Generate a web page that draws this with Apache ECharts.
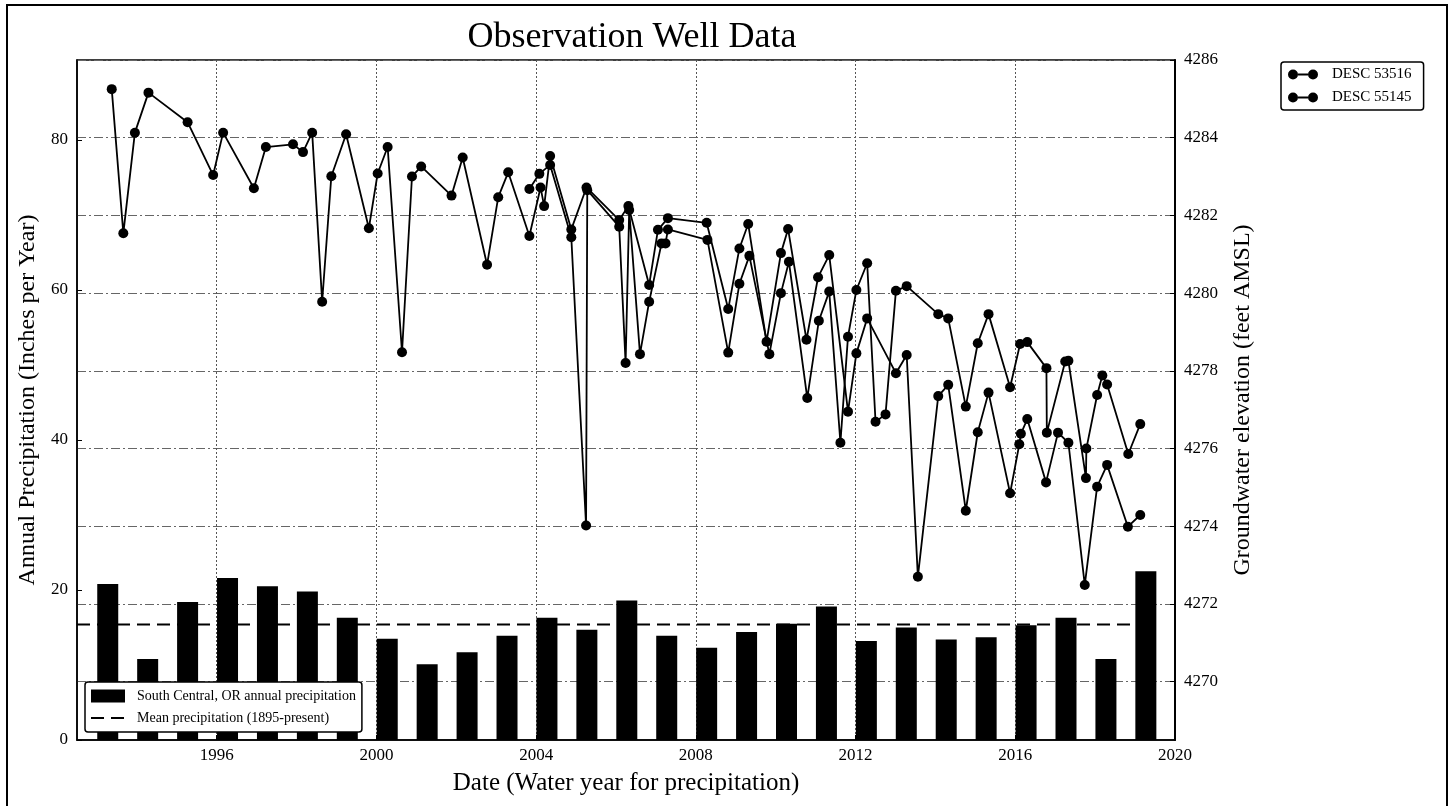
<!DOCTYPE html>
<html>
<head>
<meta charset="utf-8">
<title>Observation Well Data</title>
<script src="https://cdn.jsdelivr.net/npm/echarts@6/dist/echarts.min.js"></script>
<style>
  html, body { margin: 0; padding: 0; background: #fff; }
  #chart { width: 1452px; height: 806px; }
</style>
</head>
<body>
<div id="chart"></div>
<script>
// annual precipitation by water year (inches)
const precipYears = [1993, 1994, 1995, 1996, 1997, 1998, 1999, 2000, 2001, 2002, 2003, 2004, 2005, 2006,
  2007, 2008, 2009, 2010, 2011, 2012, 2013, 2014, 2015, 2016, 2017, 2018, 2019]
const precipValues = [20.8, 10.8, 18.4, 21.6, 20.5, 19.8, 16.3, 13.5, 10.1, 11.7, 13.9, 16.3, 14.7, 18.6,
  13.9, 12.3, 14.4, 15.5, 17.8, 13.2, 15.0, 13.4, 13.7, 15.3, 16.3, 10.8, 22.5]
const barOffset = 0.27 // bars sit a quarter year into each water year
const meanPrecip = 15.4
const meanSpan = [1992.5, 2019.3]

// groundwater elevation (feet AMSL), dates as decimal years
const well53516Dates = [1993.37, 1993.66, 1993.95, 1994.29, 1995.27, 1995.91, 1996.16, 1996.93, 1997.23, 1997.91,
  1998.16, 1998.39, 1998.64, 1998.87, 1999.24, 1999.81, 2000.03, 2000.28, 2000.64, 2000.89,
  2001.12, 2001.88, 2002.16, 2002.77, 2003.05, 2003.30, 2003.83, 2004.11, 2004.20, 2004.35,
  2004.88, 2005.26, 2006.08, 2006.31, 2006.83, 2007.05, 2007.30, 2008.27, 2008.81, 2009.09,
  2009.31, 2009.77, 2010.13, 2010.31, 2010.77, 2011.06, 2011.34, 2011.81, 2012.02, 2012.29,
  2013.01, 2013.28, 2013.56, 2014.07, 2014.32, 2014.76, 2015.06, 2015.33, 2015.87, 2016.10,
  2016.14, 2016.30, 2016.77, 2017.07, 2017.33, 2017.74, 2018.05, 2018.30, 2018.82, 2019.13]
const well53516Elev = [4285.25, 4281.54, 4284.13, 4285.16, 4284.40, 4283.04, 4284.13, 4282.70, 4283.76, 4283.83,
  4283.63, 4284.13, 4279.78, 4283.01, 4284.09, 4281.67, 4283.08, 4283.76, 4278.48, 4283.00,
  4283.26, 4282.51, 4283.49, 4280.73, 4282.47, 4283.11, 4281.47, 4282.72, 4282.24, 4283.53,
  4281.64, 4282.72, 4281.88, 4282.24, 4280.21, 4281.63, 4281.93, 4281.81, 4279.59, 4281.15,
  4281.78, 4278.75, 4281.03, 4281.65, 4278.80, 4280.41, 4280.98, 4276.95, 4278.45, 4279.35,
  4277.94, 4278.41, 4272.70, 4277.35, 4277.64, 4274.40, 4276.42, 4277.44, 4274.85, 4276.11,
  4276.38, 4276.76, 4275.13, 4276.41, 4276.15, 4272.49, 4275.02, 4275.58, 4273.99, 4274.29]

const well55145Dates = [2003.83, 2004.08, 2004.35, 2004.88, 2005.25, 2005.28, 2006.08, 2006.24, 2006.33, 2006.60,
  2006.83, 2007.14, 2007.24, 2007.30, 2008.29, 2008.81, 2009.09, 2009.34, 2009.84, 2010.13,
  2010.33, 2010.79, 2011.08, 2011.34, 2011.62, 2011.81, 2012.02, 2012.29, 2012.50, 2012.75,
  2013.01, 2013.28, 2014.07, 2014.32, 2014.76, 2015.06, 2015.33, 2015.87, 2016.12, 2016.30,
  2016.78, 2016.79, 2017.25, 2017.33, 2017.77, 2017.78, 2018.05, 2018.18, 2018.30, 2018.83,
  2019.13]
const well55145Elev = [4282.68, 4283.07, 4283.30, 4281.44, 4274.02, 4282.65, 4281.71, 4278.20, 4282.14, 4278.43,
  4279.78, 4281.28, 4281.28, 4281.64, 4281.37, 4278.47, 4280.24, 4280.96, 4278.43, 4280.00,
  4280.81, 4277.30, 4279.29, 4280.04, 4276.15, 4278.88, 4280.08, 4280.77, 4276.69, 4276.88,
  4280.06, 4280.18, 4279.46, 4279.35, 4277.08, 4278.71, 4279.46, 4277.58, 4278.69, 4278.74,
  4278.07, 4276.41, 4278.24, 4278.26, 4275.24, 4276.00, 4277.38, 4277.88, 4277.65, 4275.86,
  4276.63]

const xTicks = [1996, 2000, 2004, 2008, 2012, 2016, 2020]
const leftTicks = [0, 20, 40, 60, 80]
const rightTicks = [4270, 4272, 4274, 4276, 4278, 4280, 4282, 4284, 4286]

const serif = "'Liberation Serif', 'Times New Roman', serif"
const twoDotIcon = 'path://M0,5A5,5,0,1,0,10,5A5,5,0,1,0,0,5ZM20,5A5,5,0,1,0,30,5A5,5,0,1,0,20,5ZM10,4L20,4L20,6L10,6Z'
const plain = v => String(v) // no thousands separators

const chart = echarts.init(document.getElementById('chart'))

const wellSeries = (name, dates, elev) => ({
  name: name,
  type: 'line',
  xAxisIndex: 0,
  yAxisIndex: 1,
  symbol: 'circle',
  symbolSize: 10,
  z: 5,
  itemStyle: { color: '#000' },
  lineStyle: { color: '#000', width: 1.8 },
  data: dates.map((d, i) => [d, elev[i]])
})

chart.setOption({
  backgroundColor: '#fff',
  animation: false,
  title: {
    text: 'Observation Well Data',
    left: 627,
    top: 15,
    textAlign: 'center',
    textStyle: { fontFamily: serif, fontSize: 36, fontWeight: 'normal', color: '#000' }
  },
  graphic: [{
    type: 'rect',
    shape: { x: 7, y: 5, width: 1440, height: 806 },
    style: { fill: 'none', stroke: '#000', lineWidth: 2 },
    silent: true
  }],
  legend: [{
    data: ['DESC 53516', 'DESC 55145'],
    orient: 'vertical',
    left: 1281,
    top: 62,
    backgroundColor: '#fff',
    borderColor: '#000',
    borderWidth: 1.5,
    borderRadius: 3,
    padding: [5, 12, 5, 7],
    itemGap: 8,
    itemWidth: 30,
    itemHeight: 10,
    icon: twoDotIcon,
    textStyle: { fontFamily: serif, fontSize: 15, color: '#000', padding: [0, 0, 0, 9] }
  }, {
    data: [
      { name: 'South Central, OR annual precipitation', icon: 'rect' },
      { name: 'Mean precipitation (1895-present)', itemStyle: { opacity: 0 } }
    ],
    orient: 'vertical',
    left: 85,
    top: 682,
    backgroundColor: '#fff',
    borderColor: '#000',
    borderWidth: 1.5,
    borderRadius: 3,
    padding: [7, 6, 7, 5],
    itemGap: 8,
    itemWidth: 34,
    itemHeight: 13,
    textStyle: { fontFamily: serif, fontSize: 14, color: '#000', padding: [0, 0, 0, 7] }
  }],
  grid: {
    left: 77,
    right: 277,
    top: 60,
    bottom: 66,
    show: true,
    borderColor: '#000',
    borderWidth: 1.5,
    containLabel: false
  },
  xAxis: [{
    type: 'value',
    min: 1992.5,
    max: 2020,
    name: 'Date (Water year for precipitation)',
    nameLocation: 'middle',
    nameGap: 31,
    nameTextStyle: { fontFamily: serif, fontSize: 25, color: '#000' },
    axisLine: { lineStyle: { color: '#000', width: 1.5 } },
    axisTick: { inside: true, length: 5, customValues: xTicks, lineStyle: { color: '#000' } },
    axisLabel: { customValues: xTicks, formatter: plain, fontFamily: serif, fontSize: 17, color: '#000', margin: 7 },
    splitLine: { show: true, lineStyle: { color: '#555', type: [2, 2], width: 1 } }
  }],
  yAxis: [{
    type: 'value',
    position: 'left',
    min: 0,
    max: 90.67,
    interval: 20,
    name: 'Annual Precipitation (Inches per Year)',
    nameLocation: 'middle',
    nameRotate: 90,
    nameGap: 37,
    nameTextStyle: { fontFamily: serif, fontSize: 24, color: '#000' },
    axisLine: { show: true, lineStyle: { color: '#000', width: 1.5 } },
    axisTick: { show: true, inside: true, length: 5, customValues: leftTicks, lineStyle: { color: '#000' } },
    axisLabel: { customValues: leftTicks, formatter: plain, fontFamily: serif, fontSize: 17, color: '#000', margin: 9 },
    splitLine: { show: false }
  }, {
    type: 'value',
    position: 'right',
    min: 4268.5,
    max: 4286,
    name: 'Groundwater elevation (feet AMSL)',
    nameLocation: 'middle',
    nameRotate: 90,
    nameGap: 56,
    nameTextStyle: { fontFamily: serif, fontSize: 24, color: '#000' },
    axisLine: { show: true, lineStyle: { color: '#000', width: 2 } },
    axisTick: { show: true, inside: true, length: 5, customValues: rightTicks, lineStyle: { color: '#000' } },
    axisLabel: { customValues: rightTicks, formatter: plain, fontFamily: serif, fontSize: 17, color: '#000', margin: 9 },
    splitLine: { show: true, lineStyle: { color: '#666', type: [9, 3, 2, 3], width: 1 } }
  }],
  series: [
    {
      name: 'South Central, OR annual precipitation',
      type: 'bar',
      xAxisIndex: 0,
      yAxisIndex: 0,
      barWidth: 21,
      itemStyle: { color: '#000' },
      data: precipYears.map((y, i) => [y + barOffset, precipValues[i]])
    },
    {
      name: 'Mean precipitation (1895-present)',
      type: 'line',
      xAxisIndex: 0,
      yAxisIndex: 0,
      symbol: 'none',
      itemStyle: { color: '#000' },
      lineStyle: { color: '#000', width: 2, type: [13, 7] },
      data: meanSpan.map(x => [x, meanPrecip])
    },
    wellSeries('DESC 53516', well53516Dates, well53516Elev),
    wellSeries('DESC 55145', well55145Dates, well55145Elev)
  ]
})
</script>
</body>
</html>
